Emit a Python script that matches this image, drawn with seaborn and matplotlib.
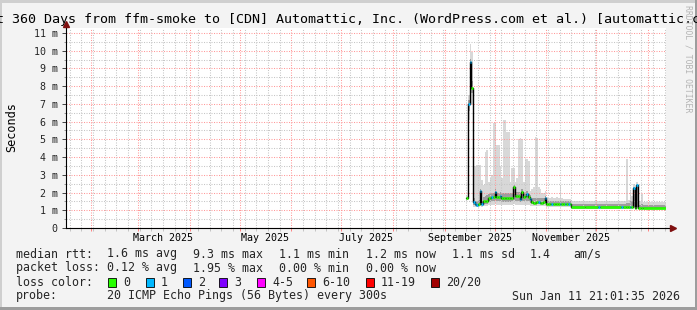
import matplotlib
matplotlib.use("Agg")
import matplotlib.pyplot as plt
import matplotlib.dates as mdates
import matplotlib.transforms as mtransforms
from matplotlib.patches import Rectangle
from matplotlib.ticker import NullFormatter
import numpy as np
import pandas as pd
import seaborn as sns

# ---------------- data ----------------
period_start = "2025-01-16 21:01:35"
period_end = "2026-01-11 21:01:35"

step_dates = [
    "2025-09-14", "2025-09-15", "2025-09-16", "2025-09-17", "2025-09-18", "2025-09-19",
    "2025-09-20", "2025-09-21", "2025-09-22", "2025-09-23", "2025-09-24", "2025-09-25",
    "2025-09-26", "2025-09-27", "2025-09-28", "2025-09-29", "2025-09-30", "2025-10-01",
    "2025-10-02", "2025-10-03", "2025-10-04", "2025-10-05", "2025-10-06", "2025-10-07",
    "2025-10-08", "2025-10-09", "2025-10-10", "2025-10-11", "2025-10-12", "2025-10-13",
    "2025-10-14", "2025-10-15", "2025-10-16", "2025-10-17", "2025-10-18", "2025-10-19",
    "2025-10-20", "2025-10-21", "2025-10-22", "2025-10-23", "2025-10-24", "2025-10-25",
    "2025-10-26", "2025-10-27", "2025-10-28", "2025-10-29", "2025-10-30", "2025-10-31",
    "2025-11-01", "2025-11-02", "2025-11-03", "2025-11-04", "2025-11-05", "2025-11-06",
    "2025-11-07", "2025-11-08", "2025-11-09", "2025-11-10", "2025-11-11", "2025-11-12",
    "2025-11-13", "2025-11-14", "2025-11-15", "2025-11-16", "2025-11-24", "2025-12-02",
    "2025-12-03", "2025-12-16", "2025-12-17", "2025-12-19", "2025-12-20", "2025-12-21",
    "2025-12-22", "2025-12-23", "2025-12-24", "2025-12-25", "2025-12-26", "2025-12-28",
    "2025-12-29",
]
median_ms = [
    1.67, 7.00, 9.38, 7.88, 1.48, 1.35, 1.32, 1.38, 2.10, 1.35, 1.52, 1.52,
    1.55, 1.67, 1.68, 1.77, 1.73, 2.03, 1.77, 1.76, 1.82, 1.70, 1.70, 1.72,
    1.70, 1.69, 1.68, 1.72, 2.33, 1.80, 1.80, 1.78, 1.62, 2.05, 1.75, 1.78,
    1.92, 1.75, 1.62, 1.45, 1.43, 1.43, 1.44, 1.45, 1.43, 1.43, 1.45, 1.67,
    1.37, 1.37, 1.36, 1.37, 1.38, 1.36, 1.37, 1.38, 1.37, 1.37, 1.36, 1.37,
    1.37, 1.36, 1.37, 1.20, 1.18, 1.18, 1.18, 1.18, 1.18, 1.18, 1.18, 1.18,
    1.16, 2.25, 1.15, 2.40, 1.11, 1.11, 1.11,
]
lost_pings = [
    0, 1, 1, 0, 1, 1, 1, 0, 1, 1, 0, 0,
    0, 0, 0, 1, 0, 1, 0, 0, 1, 0, 0, 0,
    0, 0, 0, 0, 0, 0, 0, 0, 1, 0, 0, 0,
    1, 0, 1, 0, 0, 0, 0, 1, 0, 0, 0, 1,
    0, 0, 0, 1, 0, 0, 0, 0, 1, 0, 0, 1,
    0, 1, 0, 0, 0, 1, 0, 1, 0, 0, 0, 1,
    0, 1, 0, 1, 0, 0, 0,
]
smoke_min_ms = [
    1.60, 6.10, 8.60, 7.00, 1.20, 1.18, 1.18, 1.20, 1.25, 1.20, 1.22, 1.22,
    1.25, 1.28, 1.28, 1.30, 1.30, 1.35, 1.30, 1.30, 1.30, 1.28, 1.28, 1.28,
    1.28, 1.28, 1.28, 1.30, 1.35, 1.30, 1.30, 1.30, 1.28, 1.30, 1.30, 1.30,
    1.30, 1.28, 1.25, 1.22, 1.22, 1.22, 1.22, 1.22, 1.22, 1.22, 1.22, 1.25,
    1.20, 1.20, 1.20, 1.20, 1.20, 1.20, 1.20, 1.20, 1.20, 1.20, 1.20, 1.20,
    1.20, 1.20, 1.20, 1.08, 1.08, 1.08, 1.08, 1.08, 1.08, 1.08, 1.08, 1.08,
    1.08, 1.10, 1.08, 1.10, 1.05, 1.05, 1.05,
]
smoke_lo_ms = [
    1.62, 6.60, 9.10, 7.60, 1.30, 1.26, 1.25, 1.28, 1.45, 1.28, 1.35, 1.35,
    1.38, 1.45, 1.45, 1.50, 1.50, 1.60, 1.50, 1.50, 1.52, 1.48, 1.48, 1.48,
    1.48, 1.48, 1.46, 1.50, 1.60, 1.50, 1.50, 1.50, 1.45, 1.55, 1.50, 1.50,
    1.55, 1.50, 1.42, 1.35, 1.35, 1.35, 1.35, 1.35, 1.35, 1.35, 1.35, 1.40,
    1.30, 1.30, 1.30, 1.30, 1.30, 1.30, 1.30, 1.30, 1.30, 1.30, 1.30, 1.30,
    1.30, 1.30, 1.30, 1.13, 1.12, 1.12, 1.12, 1.12, 1.12, 1.12, 1.12, 1.12,
    1.12, 1.20, 1.10, 1.20, 1.08, 1.08, 1.08,
]
smoke_hi_ms = [
    1.74, 7.20, 9.55, 8.30, 1.70, 1.55, 1.50, 1.60, 2.20, 1.55, 1.75, 1.80,
    1.85, 1.90, 1.95, 2.00, 2.00, 2.20, 2.00, 2.00, 2.05, 1.95, 1.95, 1.95,
    1.95, 1.95, 1.95, 2.00, 2.40, 2.05, 2.05, 2.05, 1.95, 2.20, 2.00, 2.05,
    2.10, 2.00, 1.85, 1.70, 1.70, 1.70, 1.70, 1.70, 1.70, 1.70, 1.70, 1.80,
    1.55, 1.55, 1.55, 1.55, 1.55, 1.55, 1.55, 1.55, 1.55, 1.55, 1.55, 1.55,
    1.55, 1.55, 1.55, 1.35, 1.33, 1.33, 1.33, 1.33, 1.33, 1.40, 1.40, 1.50,
    1.50, 2.30, 1.40, 2.45, 1.30, 1.35, 1.30,
]
smoke_max_ms = [
    1.80, 7.50, 10.40, 9.90, 3.50, 3.50, 3.55, 3.55, 3.55, 2.70, 2.40, 4.30,
    4.40, 2.60, 2.80, 3.00, 5.90, 5.90, 4.70, 4.70, 3.50, 2.80, 6.10, 6.10,
    5.40, 5.40, 2.60, 3.40, 3.40, 2.60, 2.80, 5.00, 5.10, 5.00, 2.60, 3.90,
    3.90, 3.80, 2.10, 2.20, 2.30, 5.15, 5.10, 2.30, 2.20, 2.00, 2.00, 2.10,
    1.75, 1.70, 1.70, 1.75, 1.70, 1.70, 1.75, 1.70, 2.43, 1.70, 1.65, 1.65,
    1.65, 1.65, 1.65, 1.55, 1.52, 1.52, 1.50, 1.50, 1.50, 3.90, 1.60, 2.10,
    1.80, 2.50, 1.80, 2.60, 1.50, 1.90, 1.45,
]

loss_labels = ["0", "1", "2", "3", "4-5", "6-10", "11-19", "20/20"]
loss_colors = ["#26ff00", "#00b8ff", "#0059ff", "#7e00ff",
               "#ff00ff", "#ff5500", "#ff0000", "#a10000"]

y_ticks_ms = [0, 1, 2, 3, 4, 5, 6, 7, 8, 9, 10, 11]
y_tick_labels = ["0", "1 m", "2 m", "3 m", "4 m", "5 m", "6 m", "7 m",
                 "8 m", "9 m", "10 m", "11 m"]
month_label_text = ["March 2025", "May 2025", "July 2025",
                    "September 2025", "November 2025"]
month_label_dates = ["2025-03-16", "2025-05-16", "2025-07-16",
                     "2025-09-16", "2025-11-16"]

title = ("Last 360 Days from ffm-smoke to [CDN] Automattic, Inc. "
         "(WordPress.com et al.) [automattic.com]")
rtt_row = [("median rtt:", 16), ("1.6 ms avg", 107), ("9.3 ms max", 193),
           ("1.1 ms min", 279), ("1.2 ms now", 366), ("1.1 ms sd", 452),
           ("1.4", 530), ("am/s", 573)]
loss_row = [("packet loss:", 16), ("0.12 % avg", 107), ("1.95 % max", 193),
            ("0.00 % min", 279), ("0.00 % now", 366)]
probe_text = "20 ICMP Echo Pings (56 Bytes) every 300s"
timestamp_text = "Sun Jan 11 21:01:35 2026"

# ---------------- figure ----------------
W, H = 697, 310
sns.set_theme(style="white")
plt.rcParams['font.family'] = ['DejaVu Sans Mono', 'DejaVu Sans']

fig = plt.figure(figsize=(W / 100, H / 100), dpi=100, facecolor="#f3f3f3")


def fx(x):
    return x / W


def fy(y):
    return 1 - y / H


ax = fig.add_axes([fx(66), fy(228), 600 / W, 200 / H])
ax.set_facecolor("white")

t_end = mdates.date2num(pd.Timestamp(period_end))
t_start = mdates.date2num(pd.Timestamp(period_start))
xs = np.append(mdates.date2num(pd.to_datetime(step_dates)), t_end)


def ext(a):
    a = np.asarray(a, dtype=float)
    return np.append(a, a[-1])


# smoke
ax.fill_between(xs, ext(smoke_min_ms), ext(smoke_max_ms), step="post",
                color="#d8d8d8", lw=0, zorder=1)
ax.fill_between(xs, ext(smoke_lo_ms), ext(smoke_hi_ms), step="post",
                color="#9e9e9e", lw=0, zorder=1.5)

# median line
df = pd.DataFrame({"t": xs, "median": ext(median_ms)})
sns.lineplot(data=df, x="t", y="median", drawstyle="steps-post", color="black",
             lw=1.0, ax=ax, estimator=None, sort=False, zorder=3)

seg_colors = [loss_colors[min(n, 1) if n < 2 else 2] for n in lost_pings]
ax.hlines(median_ms, xs[:-1], xs[1:], colors=seg_colors, lw=1.9, zorder=4)

ax.set_xlim(t_start, t_end)
ax.set_ylim(0, 11.28)
ax.set_xlabel("")
ax.set_ylabel("")

# grids / ticks
ax.xaxis.set_major_locator(mdates.MonthLocator())
ax.xaxis.set_minor_locator(mdates.WeekdayLocator(byweekday=mdates.SU))
ax.xaxis.set_major_formatter(NullFormatter())
ax.xaxis.set_minor_formatter(NullFormatter())
ax.set_yticks(y_ticks_ms, y_tick_labels)
ax.set_yticks(np.array(y_ticks_ms[:-1]) + 0.5, minor=True)
ax.set_axisbelow(False)
ax.grid(which="major", axis="both", color="#ff9a9a", linestyle=(0, (1, 1.4)), lw=0.75)
ax.grid(which="minor", axis="both", color="#c6c6c6", linestyle=(0, (1, 1.4)), lw=0.75)

ax.tick_params(axis="y", which="major", length=3, width=0.7, color="#444444",
               labelsize=7.2, pad=3, left=True)
ax.tick_params(axis="y", which="minor", length=1.5, width=0.6, color="#888888", left=True)
ax.tick_params(axis="x", which="major", length=2, width=0.7, color="#ff8080", bottom=True)
ax.tick_params(axis="x", which="minor", length=2, width=0.6, color="#bbbbbb", bottom=True)

for s in ("top", "right"):
    ax.spines[s].set_visible(False)
for s in ("left", "bottom"):
    ax.spines[s].set_color("#000000")
    ax.spines[s].set_linewidth(0.8)
    ax.spines[s].set_zorder(5)

# axis arrows
ax.plot([1.0, 1.012], [0, 0], color="black", lw=0.8, transform=ax.transAxes, clip_on=False)
ax.plot([1.012], [0], marker=">", ms=4.5, color="#7f0f0f", transform=ax.transAxes,
        clip_on=False, zorder=6)
ax.plot([0, 0], [1.0, 1.02], color="black", lw=0.8, transform=ax.transAxes, clip_on=False)
ax.plot([0], [1.02], marker="^", ms=4.5, color="#7f0f0f", transform=ax.transAxes,
        clip_on=False, zorder=6)

# month labels
trans = mtransforms.blended_transform_factory(ax.transData, ax.transAxes)
for d, lab in zip(month_label_dates, month_label_text):
    ax.text(mdates.date2num(pd.Timestamp(d)), -0.05, lab, transform=trans,
            ha="center", va="center", fontsize=7.2, color="black")

# title / labels
fig.text(0.5, fy(19), title, ha="center", va="center", fontsize=9.6, color="black")
fig.text(fx(12), fy(127), "Seconds", rotation=90, ha="center", va="center",
         fontsize=8.6, color="black")
fig.text(fx(688), fy(59), "RRDTOOL / TOBI OETIKER", rotation=270, ha="center",
         va="center", fontsize=5.9, color="#b4b4b4")

# legend rows
LS = 8.4
for txt, x in rtt_row:
    fig.text(fx(x), fy(254), txt, ha="left", va="center", fontsize=LS)
for txt, x in loss_row:
    fig.text(fx(x), fy(268), txt, ha="left", va="center", fontsize=LS)
fig.text(fx(16), fy(282), "loss color:", ha="left", va="center", fontsize=LS)
box_x = [108, 146, 183, 219, 257, 307, 366, 431]
for bx, lab, col in zip(box_x, loss_labels, loss_colors):
    fig.add_artist(Rectangle((fx(bx), fy(286.5)), 8 / W, 9 / H, transform=fig.transFigure,
                             facecolor=col, edgecolor="black", lw=0.6))
    fig.text(fx(bx + 15), fy(282), lab, ha="left", va="center", fontsize=LS)
fig.text(fx(16), fy(296), "probe:", ha="left", va="center", fontsize=LS)
fig.text(fx(107), fy(296), probe_text, ha="left", va="center", fontsize=LS)
fig.text(fx(680), fy(296), timestamp_text, ha="right", va="center", fontsize=LS)

# frame
fig.add_artist(Rectangle((0, fy(3)), 1, 3 / H, transform=fig.transFigure,
                         facecolor="#cfcfcf", lw=0))
fig.add_artist(Rectangle((0, 0), 2 / W, 1, transform=fig.transFigure,
                         facecolor="#cfcfcf", lw=0))
fig.add_artist(Rectangle((0, 0), 1, 3 / H, transform=fig.transFigure,
                         facecolor="#9d9d9d", lw=0))
fig.add_artist(Rectangle((1 - 2 / W, 0), 2 / W, 1, transform=fig.transFigure,
                         facecolor="#9d9d9d", lw=0))

fig.savefig("out.png", dpi=100, facecolor=fig.get_facecolor())
